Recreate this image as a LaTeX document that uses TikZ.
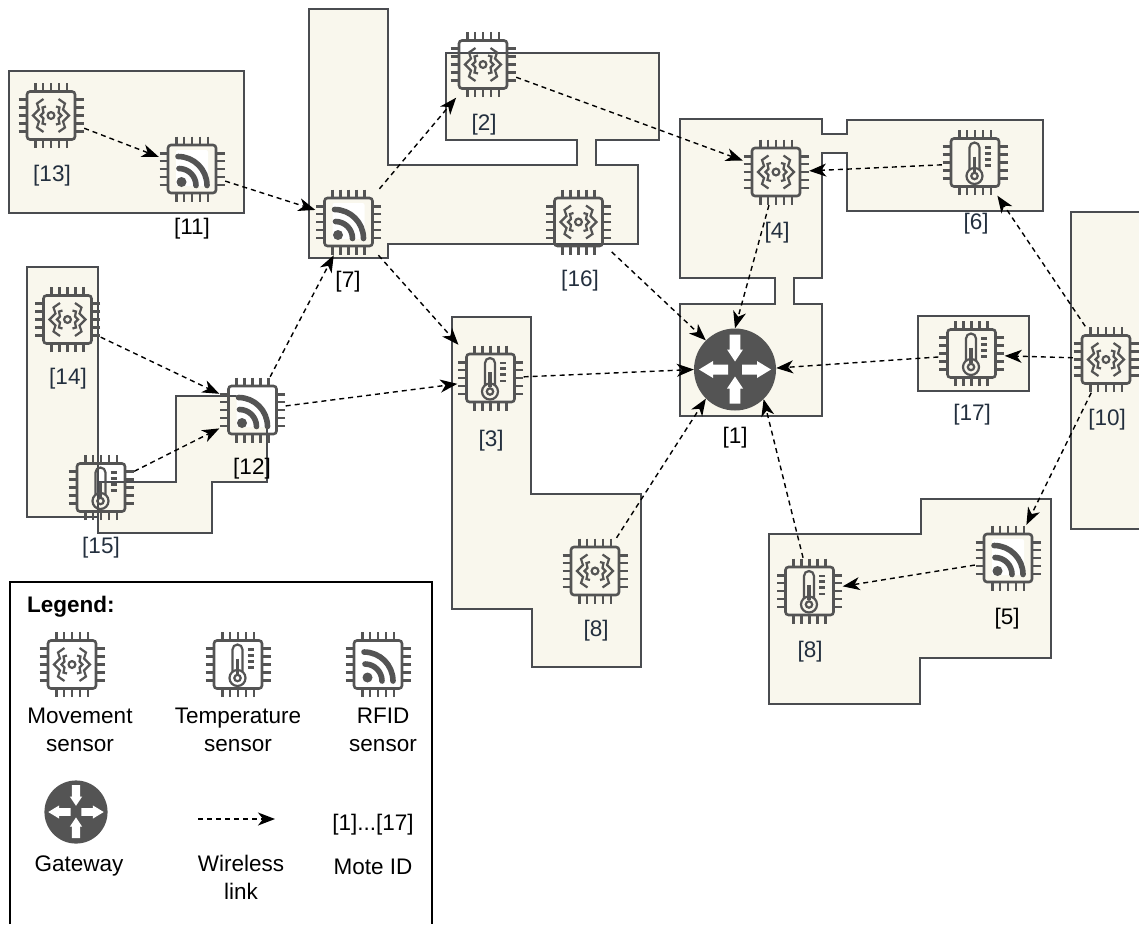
\documentclass[tikz,border=0pt]{standalone}
\usepackage{fontspec}
\setmainfont{Liberation Sans}
\usetikzlibrary{arrows.meta, shapes.geometric}
\definecolor{roombg}{HTML}{f9f7ed}
\definecolor{roomline}{HTML}{4a4c50}
\definecolor{chipgray}{HTML}{545454}
\definecolor{idblue}{HTML}{232f3e}
\tikzset{
  chipline/.style={draw=chipgray, line width=2.6pt},
  pics/chip/.style={code={
    \draw[chipline, rounded corners=3pt] (-24,-24) rectangle (24,24);
    \foreach \k in {-2,...,2} {
      \draw[chipline] (\k*7.9,-32.5) -- (\k*7.9,-25);
      \draw[chipline] (\k*7.9,32.5) -- (\k*7.9,25);
      \draw[chipline] (-32.5,\k*7.9) -- (-25,\k*7.9);
      \draw[chipline] (32.5,\k*7.9) -- (25,\k*7.9);
    }
  }},
  pics/movement/.style={code={
    \pic {chip};
    \draw[chipline, line width=2.2pt] (0,0) circle (3.4);
    \foreach \s in {1,-1} {
      \draw[chipline, line width=2.2pt] (\s*5,-9) -- (\s*8.5,-8) -- (\s*7.5,-3) -- (\s*10.5,0) -- (\s*7.5,3) -- (\s*8.5,8) -- (\s*5,9);
      \draw[chipline, line width=2.2pt] (\s*7.5,-16.5) -- (\s*14,-12) -- (\s*12,-6) -- (\s*18,0) -- (\s*12,6) -- (\s*14,12) -- (\s*7.5,16.5);
    }
  }},
  pics/temperature/.style={code={
    \pic {chip};
    \draw[chipline, line width=2.2pt] (-5.5,7) -- (-5.5,-15) arc[start angle=180, end angle=360, radius=5] -- (4.5,7);
    \draw[chipline, line width=2.2pt] (-0.5,13.5) circle (8);
    \draw[chipline, line width=2.2pt] (-0.5,13.5) circle (3.2);
    \draw[draw=chipgray, line width=3.4pt] (-0.5,-6) -- (-0.5,9);
    \foreach \ty in {-15,-9.3,-3.3,3} {
      \draw[draw=chipgray, line width=2.6pt] (9.5,\ty) -- (15.5,\ty);
    }
  }},
  pics/rfid/.style={code={
    \fill[white, rounded corners=2pt] (-16,-19) rectangle (16,17);
    \pic {chip};
    \fill[chipgray] (-10.5,13) circle (5);
    \draw[draw=chipgray, line width=5.6pt, line cap=round] (-13,-0.5) arc[start angle=-90, end angle=0, radius=17];
    \draw[draw=chipgray, line width=5.6pt, line cap=round] (-14,-12.5) arc[start angle=-90, end angle=0, radius=29];
  }},
  pics/gateway/.style={code={
    \fill[chipgray] (0,0) circle (41);
    \fill[white] (-5.3,-35) -- (5.3,-35) -- (5.3,-20) -- (8,-20) -- (0,-8) -- (-8,-20) -- (-5.3,-20) -- cycle;
    \fill[white] (-5.3,34) -- (5.3,34) -- (5.3,19) -- (8,19) -- (0,7) -- (-8,19) -- (-5.3,19) -- cycle;
    \fill[white] (7,-5) -- (22,-5) -- (22,-8.5) -- (36,0) -- (22,8.5) -- (22,5) -- (7,5) -- cycle;
    \fill[white] (-7,-5) -- (-22,-5) -- (-22,-8.5) -- (-36,0) -- (-22,8.5) -- (-22,5) -- (-7,5) -- cycle;
  }}
}
\begin{document}
\begin{tikzpicture}[
  x=1pt, y=-1pt,
  room/.style={fill=roombg, draw=roomline, line width=1.4pt},
  mote/.style={rectangle, minimum size=66pt, inner sep=0pt},
  hub/.style={circle, minimum size=82pt, inner sep=0pt},
  moteid/.style={font=\fontsize{22.5}{27}\selectfont, text=idblue, inner sep=0pt, yshift=-1.5pt},
  moteidk/.style={moteid, text=black},
  legendtxt/.style={font=\fontsize{22.5}{28}\selectfont, align=center, inner sep=0pt},
  link/.style={-{Stealth[length=17pt, width=13pt, inset=5pt]}, dashed, dash pattern=on 5pt off 4pt, line width=1.4pt, color=black}
]
\useasboundingbox (0,0) rectangle (1139,924);

% rooms
\draw[room] (9,71) rectangle (244,213);
\draw[room] (27,267) rectangle (98,517);
\draw[room] (176,396) -- (267,396) -- (267,482) -- (212,482) -- (212,533) -- (98,533) -- (98,482) -- (176,482) -- cycle;
\draw[room] (309,9) -- (388,9) -- (388,165) -- (577,165) -- (577,140) -- (446,140) -- (446,53) -- (659,53) -- (659,140) -- (596,140) -- (596,165) -- (638,165) -- (638,244) -- (388,244) -- (388,258) -- (309,258) -- cycle;
\draw[room] (452,317) -- (531,317) -- (531,494) -- (641,494) -- (641,667) -- (532,667) -- (532,609) -- (452,609) -- cycle;
\draw[room] (680,119) -- (822,119) -- (822,134) -- (847,134) -- (847,120) -- (1043,120) -- (1043,211) -- (847,211) -- (847,153) -- (822,153) -- (822,278) -- (794,278) -- (794,304) -- (822,304) -- (822,416) -- (680,416) -- (680,304) -- (775,304) -- (775,278) -- (680,278) -- cycle;
\draw[room] (918,316) rectangle (1029,391);
\fill[roombg] (1071,212) rectangle (1139,529);
\draw[room, fill=none] (1139,212) -- (1071,212) -- (1071,529) -- (1139,529);
\draw[room] (769,534) -- (921,534) -- (921,499) -- (1051,499) -- (1051,658) -- (920,658) -- (920,704) -- (769,704) -- cycle;

% motes
\foreach \id/\px/\py/\kind in {2/483/64.5/movement, 3/490.5/378/temperature, 4/776/172/movement,
    5/1008/558/rfid, 6/975/162.5/temperature, 7/348.5/222/rfid, 8/595/571/movement,
    9/809.5/591/temperature, 10/1106/359.5/movement, 11/192/169/rfid, 12/252.5/410/rfid,
    13/51/115.5/movement, 14/67.5/319.5/movement, 15/101/487.5/temperature,
    16/578.5/222/movement, 17/971.5/353.5/temperature} {
  \node[mote] (m\id) at (\px,\py) {};
  \pic at (m\id) {\kind};
}
\node[hub] (m1) at (735,369.5) {};
\pic at (m1) {gateway};

% mote ids
\node[moteid] (id13) at (52,174) {[13]};
\node[moteidk] (id11) at (192,227) {[11]};
\node[moteidk] (id7) at (348,280) {[7]};
\node[moteid] (id2) at (484,123) {[2]};
\node[moteid] (id16) at (580,279) {[16]};
\node[moteid] (id4) at (777,231) {[4]};
\node[moteid] (id6) at (976,222) {[6]};
\node[moteid] (id17) at (972,413) {[17]};
\node[moteid] (id10) at (1107,418) {[10]};
\node[moteid] (id14) at (68,377) {[14]};
\node[moteidk] (id12) at (252,467) {[12]};
\node[moteid] (id15) at (101,546) {[15]};
\node[moteid] (id3) at (491,439) {[3]};
\node[moteid] (id8) at (596,629) {[8]};
\node[moteidk] (id1) at (735,436) {[1]};
\node[moteid] (id9) at (810,650) {[8]};
\node[moteidk] (id5) at (1007,617) {[5]};

% wireless links
\draw[link] (m13.-21) -- (m11.160);
\draw[link] (m11.-20) -- (m7.160);
\draw[link] (m7.47) -- (m2.-129);
\draw[link] (m2.-21) -- (m4.161);
\draw[link] (m6.-176) -- (m4.2);
\draw[link] (m10.122) -- (m6.-56);
\draw[link] (m10.177) -- (m17.-4);
\draw[link] (m17.-174) -- (m1.2);
\draw[link] (m4.-102) -- (m1.90);
\draw[link] (m16.-42) -- (m1.135);
\draw[link] (m3.2) -- (m1.180);
\draw[link] (m7.-48) -- (m3.134);
\draw[link] (m12.62) -- (m7.-114);
\draw[link] (m12.7) -- (m3.190);
\draw[link] (m14.-28) -- (m12.154);
\draw[link] (m15.26) -- (m12.-151);
\draw[link] (m8.57) -- (m1.-135);
\draw[link] (m9.101) -- (m1.-46);
\draw[link] (m5.192) -- (m9.8);
\draw[link] (m10.-114) -- (m5.61);

% legend
\draw[line width=1.4pt, draw=black] (10,924) -- (10,582) -- (432,582) -- (432,924);
\node[legendtxt, anchor=west, font=\fontsize{22.5}{28}\selectfont\bfseries] (legendtitle) at (27,607) {Legend:};
\node[mote] (lmove) at (72,664.5) {};
\pic at (lmove) {movement};
\node[mote] (ltemp) at (238,664.5) {};
\pic at (ltemp) {temperature};
\node[mote] (lrfid) at (378,664.5) {};
\pic at (lrfid) {rfid};
\node[legendtxt] (lmovetxt) at (80,730) {Movement\\sensor};
\node[legendtxt] (ltemptxt) at (238,730) {Temperature\\sensor};
\node[legendtxt] (lrfidtxt) at (383,730) {RFID\\sensor};
\node[circle, minimum size=63pt, inner sep=0pt] (lhub) at (76,812) {};
\pic[scale=0.77] at (lhub) {gateway};
\node[legendtxt] (lhubtxt) at (79,866) {Gateway};
\coordinate (lwire0) at (198,819);
\coordinate (lwire1) at (275,819);
\draw[link] (lwire0) -- (lwire1);
\node[legendtxt] (lwiretxt) at (241,877) {Wireless\\link};
\node[legendtxt] (lidtxt) at (373,825) {[1]...[17]};
\node[legendtxt] (lidname) at (373,867) {Mote ID};
\end{tikzpicture}
\end{document}
